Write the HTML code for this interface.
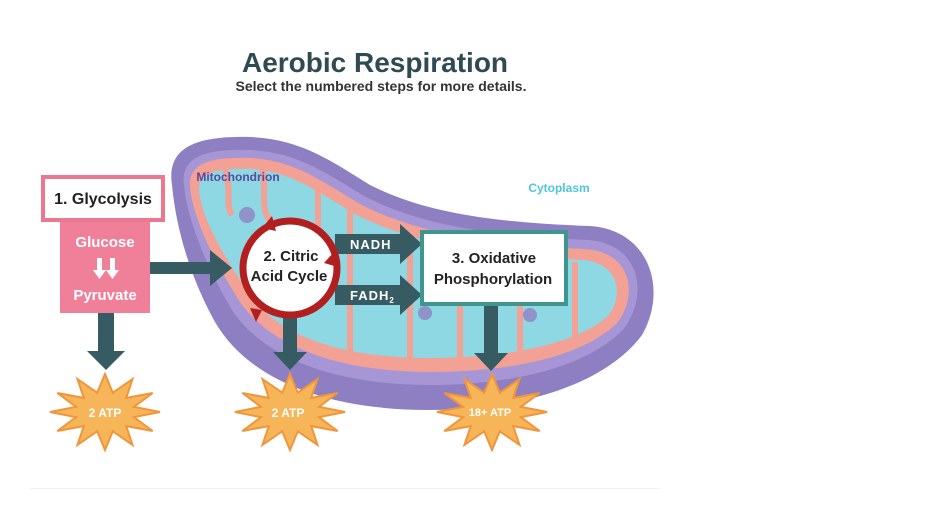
<!DOCTYPE html>
<html><head><meta charset="utf-8"><style>
html,body{margin:0;padding:0;background:#fff;}
svg{display:block;}
text{font-family:"Liberation Sans",sans-serif;}
</style></head><body>
<svg width="940" height="526" viewBox="0 0 940 526" xmlns="http://www.w3.org/2000/svg">
<defs>
<polygon id="star" points="55,0 29,5.2 47.6,19 21.2,14.1 27.5,32.9 7.8,19.3 0,38 -7.8,19.3 -27.5,32.9 -21.2,14.1 -47.6,19 -29,5.2 -55,0 -29,-5.2 -47.6,-19 -21.2,-14.1 -27.5,-32.9 -7.8,-19.3 0,-38 7.8,-19.3 27.5,-32.9 21.2,-14.1 47.6,-19 29,-5.2" fill="#f7b55a" stroke="#f0953a" stroke-width="2"/>
</defs>
<text x="375" y="72" text-anchor="middle" font-size="28" font-weight="bold" fill="#2f4a52">Aerobic Respiration</text>
<text x="381" y="91" text-anchor="middle" font-size="14" font-weight="bold" fill="#333">Select the numbered steps for more details.</text>

<!-- mitochondrion -->
<path d="M172,185 C166,145 200,136 250,137 C300,139 330,160 370,185 C420,210 480,222 590,226 C650,230 668,290 642,335 C605,385 520,410 430,410 C330,410 250,382 215,322 C190,277 176,228 172,185 Z" fill="#8e7fc2"/>
<path d="M184,186 C180,155 208,149 250,150 C296,152 325,172 364,196 C414,222 480,236 588,240 C640,244 648,292 626,326 C592,366 515,385 430,385 C338,385 265,360 232,310 C208,270 188,222 184,186 Z" fill="#a796d6"/>
<path d="M190,188 C188,162 212,157 250,158 C293,160 320,180 360,204 C410,230 478,245 586,249 C632,253 638,294 618,322 C585,356 512,372 430,372 C342,372 272,348 240,302 C217,266 194,222 190,188 Z" fill="#f3a095"/>
<path d="M199,190 C198,172 218,168 250,169 C290,171 315,190 355,214 C405,240 475,256 584,260 C620,264 624,296 608,316 C577,344 508,358 430,358 C346,358 280,338 250,295 C228,262 202,222 199,190 Z" fill="#8ed8e4"/>
<g stroke="#f3a095" stroke-width="6" fill="none">
<path d="M262,168 C268,190 258,210 272,222"/><path d="M318,188 L318,235"/><path d="M350,210 L350,355"/><path d="M410,238 L410,360"/><path d="M460,255 L460,362"/><path d="M520,262 L520,355"/><path d="M575,262 L575,340"/><path d="M225,170 C232,190 225,205 232,215"/>
</g>
<circle cx="247" cy="215" r="8" fill="#8f93c8"/>
<circle cx="425" cy="313" r="7" fill="#8f93c8"/>
<circle cx="530" cy="315" r="7" fill="#8f93c8"/>
<text x="238" y="181" text-anchor="middle" font-size="12" font-weight="bold" fill="#5a4a9e">Mitochondrion</text>
<text x="559" y="192" text-anchor="middle" font-size="12" font-weight="bold" fill="#4ec6dc">Cytoplasm</text>

<!-- glycolysis -->
<rect x="60" y="220" width="90" height="93" fill="#f0809a"/>
<rect x="43" y="177" width="120" height="43" fill="#fff" stroke="#eb7890" stroke-width="4"/>
<text x="103" y="204" text-anchor="middle" font-size="16" font-weight="bold" fill="#222">1. Glycolysis</text>
<text x="105" y="247" text-anchor="middle" font-size="15" font-weight="bold" fill="#fff">Glucose</text>
<path d="M97,258 h5 v12 h4 l-6.5,9 l-6.5,-9 h4 z M110,258 h5 v12 h4 l-6.5,9 l-6.5,-9 h4 z" fill="#fff"/>
<text x="105" y="300" text-anchor="middle" font-size="15" font-weight="bold" fill="#fff">Pyruvate</text>

<g fill="#365b62">
<path d="M150,262 h60 v-12 l22,18 l-22,18 v-12 h-60 z"/>
<path d="M98,313 h16 v38 h11 l-19,19 l-19,-19 h11 z"/>
<path d="M283,315 h14 v37 h10 l-17,18 l-17,-18 h10 z"/>
<path d="M484,305 h14 v48 h10 l-17,18 l-17,-18 h10 z"/>
<path d="M335,234 h65 v-10 l22,20 l-22,20 v-10 h-65 z"/>
<path d="M335,285 h65 v-10 l22,20 l-22,20 v-10 h-65 z"/>
</g>
<text x="350" y="249" font-size="13" font-weight="bold" fill="#fff" letter-spacing="1">NADH</text>
<text x="350" y="300" font-size="13" font-weight="bold" fill="#fff" letter-spacing="1">FADH<tspan font-size="8" dy="3">2</tspan></text>

<!-- citric -->
<circle cx="290" cy="268" r="47" fill="#fff" stroke="#b21f1f" stroke-width="7"/>
<g fill="#b21f1f">
<path d="M262,228 l10,-12 l4,15 z"/>
<path d="M334,252 l4,15 l-14,-4 z"/>
<path d="M262,310 l-6,12 l-6,-14 z"/>
</g>
<text x="291" y="261" text-anchor="middle" font-size="15" font-weight="bold" fill="#222">2. Citric</text>
<text x="289" y="281" text-anchor="middle" font-size="15" font-weight="bold" fill="#222">Acid Cycle</text>

<!-- oxidative -->
<rect x="422" y="232" width="144" height="72" fill="#fff" stroke="#3e968f" stroke-width="4"/>
<text x="494" y="263" text-anchor="middle" font-size="15" font-weight="bold" fill="#222">3. Oxidative</text>
<text x="493" y="284" text-anchor="middle" font-size="15" font-weight="bold" fill="#222">Phosphorylation</text>

<!-- stars -->
<use href="#star" transform="translate(105,412)"/>
<use href="#star" transform="translate(290,412)"/>
<use href="#star" transform="translate(492,412)"/>
<text x="105" y="417" text-anchor="middle" font-size="12" font-weight="bold" fill="#fff">2 ATP</text>
<text x="288" y="417" text-anchor="middle" font-size="12" font-weight="bold" fill="#fff">2 ATP</text>
<text x="490" y="416" text-anchor="middle" font-size="11" font-weight="bold" fill="#fff">18+ ATP</text>

<line x1="30" y1="488.5" x2="660" y2="488.5" stroke="#f0f0f0" stroke-width="1"/>
</svg>
</body></html>
